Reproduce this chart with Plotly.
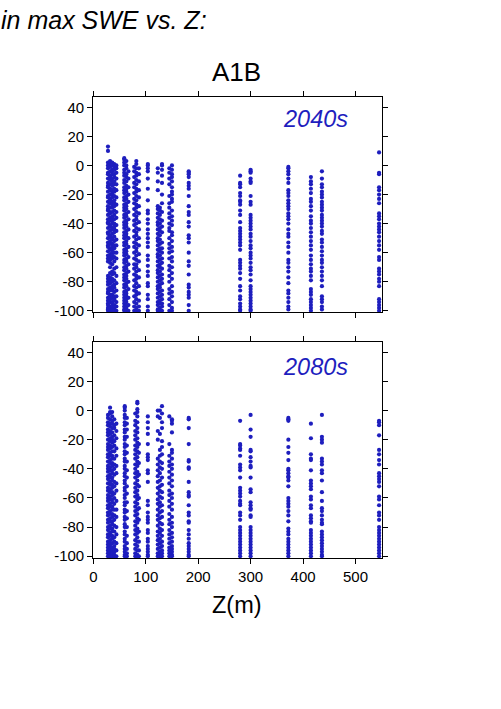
import plotly.graph_objects as go

# ---------------- data ----------------
# Elevation (Z, m) of each station column and the values read for each column
# Panel 1: 2040s
z_2040 = [28, 32, 36, 40, 44, 59, 63, 67, 78, 82, 87, 104, 123, 127, 131, 145, 150, 182, 280, 300, 372, 415, 436, 545]
a_028 = [13, 10, 2, 0, -2, -5, -6, -9, -12, -14, -15, -18, -21, -22, -25, -28, -30, -31, -34, -37, -39, -40, -43, -46, -47, -50, -53, -55, -56, -59, -62, -64, -66, -76, -78, -80, -82, -85, -87, -88, -91, -93, -95, -96, -98, -99, -100]
a_032 = [3, 1, -1, -4, -7, -8, -10, -13, -16, -17, -20, -23, -24, -26, -29, -32, -33, -36, -38, -41, -42, -45, -48, -49, -52, -54, -57, -58, -61, -63, -65, -67, -70, -74, -77, -79, -81, -84, -86, -89, -90, -92, -94, -97, -98, -100]
a_036 = [2, 0, -3, -4, -6, -9, -11, -12, -14, -17, -19, -20, -22, -25, -27, -29, -32, -35, -36, -38, -40, -43, -44, -47, -50, -51, -54, -56, -58, -60, -62, -64, -68, -73, -75, -78, -80, -83, -85, -86, -89, -91, -94, -95, -97, -99, -100]
a_040 = [1, -1, -3, -6, -8, -11, -13, -16, -18, -21, -24, -26, -28, -31, -34, -37, -40, -42, -44, -46, -49, -52, -55, -57, -60, -63, -66, -71, -74, -79, -82, -84, -87, -90, -92, -93, -96, -98, -100]
a_044 = [0, -2, -5, -9, -13, -17, -22, -27, -32, -36, -41, -45, -51, -55, -60, -64, -70, -76, -81, -86, -90, -94, -97, -100]
a_059 = [5, 4, 2, 0, -3, -5, -7, -10, -12, -15, -17, -19, -22, -24, -27, -29, -31, -34, -36, -39, -41, -43, -46, -48, -50, -53, -55, -58, -60, -62, -65, -67, -70, -72, -75, -77, -79, -82, -84, -87, -89, -91, -93, -95, -97, -99, -100]
a_063 = [3, 0, -2, -6, -8, -11, -14, -16, -18, -21, -23, -26, -28, -30, -33, -35, -38, -40, -42, -45, -47, -49, -52, -54, -57, -59, -61, -64, -66, -69, -71, -74, -76, -78, -81, -83, -86, -88, -90, -92, -94, -96, -98, -100]
a_067 = [-4, -9, -15, -20, -25, -32, -37, -44, -50, -56, -63, -68, -73, -80, -85, -91, -96, -100]
a_078 = [-1, -4, -8, -12, -15, -19, -23, -26, -30, -34, -38, -41, -45, -49, -53, -56, -60, -64, -68, -71, -75, -79, -83, -86, -90, -94, -97, -100]
a_082 = [3, 1, -2, -5, -7, -10, -13, -16, -18, -21, -24, -27, -29, -32, -35, -37, -40, -43, -46, -48, -51, -54, -57, -59, -62, -65, -68, -70, -73, -76, -78, -81, -84, -87, -89, -92, -95, -98, -100]
a_087 = [-2, -6, -11, -17, -22, -28, -33, -39, -44, -50, -55, -61, -66, -72, -77, -83, -88, -93, -97, -100]
a_104 = [1, 0, -2, -4, -9, -16, -24, -31, -33, -37, -40, -44, -47, -50, -53, -56, -62, -65, -69, -73, -76, -81, -83, -89, -92, -97, -100]
a_123 = [-2, -5, -11, -17, -28, -30, -33, -36, -39, -41, -44, -47, -50, -52, -55, -58, -61, -63, -66, -69, -72, -74, -77, -80, -83, -85, -88, -91, -94, -96, -99, -100]
a_127 = [-29, -31, -34, -37, -40, -43, -45, -48, -51, -54, -57, -59, -62, -65, -68, -70, -73, -76, -79, -82, -84, -87, -90, -93, -95, -98, -100]
a_131 = [1, 0, -3, -7, -12, -20, -26, -32, -38, -42, -46, -53, -57, -60, -64, -67, -71, -75, -78, -81, -86, -89, -92, -95, -97, -100]
a_145 = [-2, -5, -9, -13, -21, -26, -29, -33, -36, -40, -43, -45, -50, -54, -57, -60, -64, -69, -72, -76, -80, -85, -88, -92, -96, -100]
a_150 = [0, -3, -6, -8, -11, -15, -18, -20, -23, -25, -31, -35, -38, -41, -46, -48, -52, -56, -59, -63, -66, -70, -74, -78, -83, -87, -90, -94, -98, -100]
a_182 = [-4, -5, -6, -8, -12, -14, -16, -21, -28, -32, -34, -39, -42, -48, -50, -53, -60, -66, -69, -75, -82, -84, -87, -89, -91, -96, -100]
a_280 = [-7, -12, -13, -15, -19, -21, -24, -25, -27, -31, -34, -39, -43, -45, -47, -49, -51, -53, -55, -58, -65, -67, -69, -71, -74, -78, -83, -86, -90, -92, -95, -97, -99, -100]
a_300 = [-3, -4, -5, -9, -11, -12, -21, -25, -27, -34, -36, -38, -40, -42, -44, -47, -49, -52, -55, -57, -60, -62, -64, -67, -70, -72, -75, -79, -83, -85, -87, -89, -91, -93, -95, -97, -99, -100]
a_372 = [-1, -2, -4, -6, -9, -12, -17, -19, -21, -24, -26, -28, -30, -33, -35, -37, -40, -44, -47, -49, -53, -56, -60, -65, -67, -70, -73, -77, -81, -86, -88, -91, -94, -97, -99]
a_415 = [-8, -11, -13, -16, -19, -23, -25, -28, -31, -35, -38, -40, -43, -46, -49, -52, -55, -58, -62, -65, -68, -71, -73, -76, -79, -85, -87, -89, -92, -94, -96, -98, -100]
a_436 = [-4, -9, -13, -15, -18, -20, -22, -25, -27, -29, -31, -34, -36, -38, -40, -42, -45, -47, -51, -53, -56, -59, -62, -65, -67, -70, -73, -76, -79, -83, -90, -92, -94, -97, -99]
a_545 = [9, -5, -6, -15, -17, -20, -23, -26, -33, -35, -37, -40, -42, -44, -46, -49, -52, -55, -58, -63, -65, -71, -73, -75, -78, -80, -83, -92, -94, -96, -98, -100]

# Panel 2: 2080s
z_2080 = [28, 32, 36, 40, 44, 60, 64, 80, 84, 87, 104, 123, 127, 131, 145, 150, 182, 280, 300, 372, 415, 436, 545]
b_028 = [-3, -5, -8, -10, -13, -15, -17, -20, -23, -25, -27, -30, -32, -35, -38, -40, -42, -45, -47, -50, -53, -55, -58, -60, -62, -65, -67, -70, -72, -75, -77, -80, -82, -85, -87, -90, -92, -94, -96, -98, -100]
b_032 = [2, -1, -2, -6, -9, -11, -14, -16, -19, -21, -24, -26, -29, -31, -34, -36, -39, -41, -44, -46, -49, -51, -54, -56, -59, -61, -64, -66, -69, -71, -74, -76, -79, -81, -84, -86, -89, -91, -93, -95, -97, -99, -100]
b_036 = [-1, -4, -7, -9, -12, -15, -18, -20, -22, -25, -28, -31, -33, -36, -38, -41, -43, -46, -48, -51, -53, -56, -58, -61, -63, -66, -68, -71, -73, -76, -78, -81, -83, -86, -88, -91, -94, -96, -98, -100]
b_040 = [-6, -10, -12, -17, -21, -24, -28, -33, -37, -40, -44, -49, -52, -57, -60, -64, -68, -72, -75, -79, -83, -87, -90, -93, -95, -97, -99, -100]
b_044 = [-9, -14, -19, -26, -31, -38, -43, -50, -55, -62, -68, -73, -80, -85, -91, -96, -100]
b_060 = [3, 2, 0, -3, -5, -8, -10, -13, -15, -18, -20, -23, -25, -28, -30, -33, -35, -38, -40, -43, -45, -48, -50, -53, -55, -58, -60, -63, -65, -68, -70, -73, -75, -78, -80, -83, -85, -88, -90, -93, -95, -97, -99, -100]
b_064 = [-5, -9, -13, -18, -24, -29, -35, -41, -46, -52, -57, -63, -69, -74, -80, -86, -91, -95, -98, -100]
b_080 = [-2, -7, -10, -14, -17, -20, -24, -27, -30, -33, -37, -40, -43, -46, -50, -53, -56, -59, -63, -66, -69, -72, -76, -79, -82, -85, -89, -92, -95, -98, -100]
b_084 = [6, 5, 1, -1, -4, -8, -12, -15, -19, -22, -25, -28, -32, -35, -38, -42, -45, -48, -51, -55, -58, -61, -64, -68, -71, -74, -77, -81, -84, -87, -90, -93, -96, -99, -100]
b_087 = [-23, -29, -36, -44, -52, -60, -67, -75, -83, -90, -96, -100]
b_104 = [-4, -8, -12, -16, -23, -30, -32, -34, -41, -43, -49, -62, -65, -70, -73, -75, -77, -82, -84, -88, -90, -93, -95, -97, -99, -100]
b_123 = [0, -4, -14, -20, -33, -37, -41, -45, -49, -53, -57, -61, -64, -68, -72, -75, -79, -83, -86, -89, -92, -95, -98, -100]
b_127 = [0, -5, -16, -27, -31, -35, -39, -43, -48, -52, -55, -59, -63, -66, -70, -74, -77, -81, -84, -88, -91, -94, -97, -99, -100]
b_131 = [3, -2, -8, -12, -21, -25, -30, -36, -40, -46, -51, -56, -60, -65, -69, -73, -78, -82, -86, -90, -93, -96, -98, -100]
b_145 = [-4, -23, -31, -35, -38, -42, -46, -50, -55, -58, -62, -66, -71, -75, -78, -82, -85, -88, -91, -94, -96, -98, -100]
b_150 = [-6, -7, -9, -15, -27, -29, -33, -37, -40, -44, -48, -52, -57, -60, -64, -68, -73, -77, -80, -84, -87, -90, -93, -95, -97, -99, -100]
b_182 = [-5, -6, -12, -23, -34, -35, -39, -40, -49, -56, -58, -59, -65, -70, -72, -76, -77, -82, -85, -88, -91, -93, -95, -97, -99, -100]
b_280 = [-7, -23, -24, -26, -27, -31, -37, -39, -41, -46, -53, -55, -57, -59, -62, -64, -65, -70, -72, -75, -80, -82, -84, -86, -88, -90, -92, -94, -96, -98, -100]
b_300 = [-3, -13, -18, -27, -28, -32, -35, -38, -39, -46, -54, -56, -63, -65, -67, -68, -72, -73, -80, -82, -84, -86, -88, -90, -92, -94, -96, -98, -100]
b_372 = [-5, -6, -7, -20, -25, -29, -34, -40, -41, -43, -45, -46, -48, -52, -60, -62, -64, -66, -69, -72, -76, -81, -83, -85, -88, -90, -92, -94, -96, -98, -100]
b_415 = [-9, -19, -30, -33, -34, -41, -48, -50, -52, -54, -59, -61, -65, -67, -72, -74, -76, -77, -82, -84, -86, -88, -90, -92, -94, -96, -98, -100]
b_436 = [-3, -18, -20, -22, -33, -35, -37, -41, -43, -48, -56, -62, -67, -69, -72, -75, -77, -78, -83, -85, -87, -89, -91, -93, -95, -97, -99, -100]
b_545 = [-7, -8, -10, -17, -27, -30, -34, -37, -43, -45, -47, -49, -52, -59, -61, -65, -70, -72, -75, -80, -82, -84, -86, -88, -90, -92, -94, -96, -98, -100]

cols_2040 = [a_028, a_032, a_036, a_040, a_044, a_059, a_063, a_067, a_078, a_082, a_087, a_104,
             a_123, a_127, a_131, a_145, a_150, a_182, a_280, a_300, a_372, a_415, a_436, a_545]
cols_2080 = [b_028, b_032, b_036, b_040, b_044, b_060, b_064, b_080, b_084, b_087, b_104,
             b_123, b_127, b_131, b_145, b_150, b_182, b_280, b_300, b_372, b_415, b_436, b_545]

x_ticks = [0, 100, 200, 300, 400, 500]
y_ticks = [40, 20, 0, -20, -40, -60, -80, -100]
y_ticktext = ["40", "20", "0", "-20", "-40", "-60", "-80", "-100"]
panel_labels = ["2040s", "2080s"]

# ---------------- figure ----------------
BLUE = "#1e1ebe"
FONT = "Liberation Sans, Arial, Helvetica, sans-serif"

fig = go.Figure()


def flatten(zs, cols):
    xs, ys = [], []
    for z, col in zip(zs, cols):
        xs += [z] * len(col)
        ys += col
    return xs, ys


for i, (zs, cols) in enumerate([(z_2040, cols_2040), (z_2080, cols_2080)]):
    xs, ys = flatten(zs, cols)
    fig.add_trace(go.Scatter(
        x=xs, y=ys, mode="markers",
        marker=dict(size=4.2, color=BLUE, line=dict(width=0)),
        xaxis="x" if i == 0 else "x2", yaxis="y" if i == 0 else "y2",
        cliponaxis=False, showlegend=False, hoverinfo="skip"))

W, H = 501, 709
xdom = [93.3 / W, 381.7 / W]
ydom1 = [1 - 312.3 / H, 1 - 96.7 / H]
ydom2 = [1 - 557.7 / H, 1 - 341.7 / H]

axis_common = dict(showline=True, linecolor="black", linewidth=1.2, mirror="ticks",
                   ticks="outside", ticklen=5, tickwidth=1, tickcolor="black",
                   showgrid=False, zeroline=False, automargin=False,
                   tickfont=dict(family=FONT, size=15, color="black"))

fig.update_layout(
    width=W, height=H,
    margin=dict(l=0, r=0, t=0, b=0, pad=0),
    paper_bgcolor="white", plot_bgcolor="white",
    xaxis=dict(domain=xdom, range=[0, 550], tickvals=x_ticks, showticklabels=False,
               anchor="y", **axis_common),
    yaxis=dict(domain=ydom1, range=[-101, 47.3], tickvals=y_ticks, ticktext=y_ticktext,
               anchor="x", **axis_common),
    xaxis2=dict(domain=xdom, range=[0, 550], tickvals=x_ticks, anchor="y2", **axis_common),
    yaxis2=dict(domain=ydom2, range=[-101, 47.3], tickvals=y_ticks, ticktext=y_ticktext,
                anchor="x2", **axis_common),
)

annotations = [
    dict(text="<i>in max SWE vs. Z:</i>", x=0.0, y=1 - 20 / H, xref="paper", yref="paper",
         xanchor="left", yanchor="middle", showarrow=False, borderpad=0,
         font=dict(family=FONT, size=25, color="black")),
    dict(text="A1B", x=236.7 / W, y=1 - 72.5 / H, xref="paper", yref="paper",
         xanchor="center", yanchor="middle", showarrow=False,
         font=dict(family=FONT, size=26, color="black")),
    dict(text="Z(m)", x=237 / W, y=1 - 605 / H, xref="paper", yref="paper",
         xanchor="center", yanchor="middle", showarrow=False,
         font=dict(family=FONT, size=23.5, color="black")),
]
for lbl, yc in zip(panel_labels, [119, 366.5]):
    annotations.append(dict(text="<i>" + lbl + "</i>", x=350 / W, y=1 - yc / H,
                            xref="paper", yref="paper", xanchor="right", yanchor="middle",
                            showarrow=False, font=dict(family=FONT, size=23.5, color=BLUE)))
fig.update_layout(annotations=annotations)

fig.write_html("out.html", config={"displayModeBar": False},
               post_script="document.body.style.margin='0';document.body.style.overflow='hidden';")
